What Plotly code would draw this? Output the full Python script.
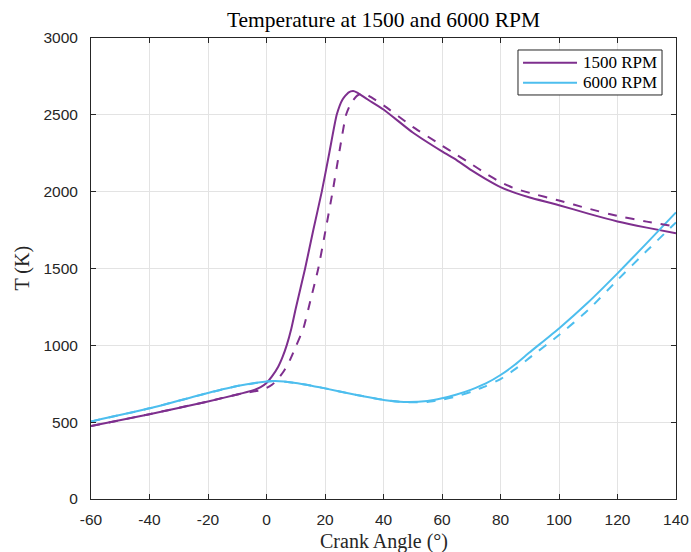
import plotly.graph_objects as go

# 1500 RPM, solid
ang_1500 = [-60, -40, -20, -10, -5, -2, 0, 1.8, 4, 5.5, 6.9, 8.5, 10, 13.2, 16, 18.9, 21.5, 24, 26, 28, 29.6, 31, 33, 35, 40, 50, 60, 65, 70, 75, 80, 85, 90, 100, 110, 120, 130, 140]
T_1500 = [475, 552, 635, 680, 705, 728, 755, 796, 861, 925, 1000, 1110, 1240, 1500, 1750, 2000, 2255, 2500, 2600, 2645, 2655, 2645, 2620, 2595, 2535, 2385, 2262, 2205, 2140, 2082, 2030, 1992, 1962, 1912, 1857, 1806, 1766, 1730]
# 1500 RPM, dashed
ang_1500d = [-60, -40, -20, -10, -5, -2, 0, 2, 4, 6, 8, 10.2, 12.6, 15, 17.7, 20, 22.6, 25, 27.2, 29, 31, 32.5, 34, 36, 40, 50, 60, 65, 70, 75, 80, 85, 90, 100, 110, 120, 130, 140]
T_1500d = [475, 552, 635, 680, 698, 708, 722, 745, 782, 835, 904, 1000, 1110, 1290, 1500, 1730, 2000, 2270, 2500, 2580, 2625, 2640, 2635, 2612, 2562, 2422, 2300, 2240, 2180, 2118, 2062, 2020, 1992, 1942, 1890, 1842, 1805, 1772]
# 6000 RPM, solid
ang_6000 = [-60, -40, -20, -10, 0, 3, 10, 20, 30, 40, 47, 55, 60, 65, 70, 75, 80, 85, 90, 100, 110, 120, 130, 140]
T_6000 = [505, 590, 690, 735, 765, 768, 755, 720, 680, 645, 632, 638, 655, 680, 712, 752, 807, 875, 955, 1110, 1280, 1468, 1665, 1865]
# 6000 RPM, dashed
ang_6000d = [-60, -40, -20, -10, 0, 3, 10, 20, 30, 40, 47, 55, 60, 65, 70, 75, 80, 85, 90, 100, 110, 120, 130, 140]
T_6000d = [505, 590, 690, 735, 765, 768, 755, 720, 680, 645, 630, 632, 646, 668, 698, 735, 780, 845, 920, 1067, 1230, 1425, 1615, 1800]

x_ticks = list(range(-60, 141, 20))
x_ticklabels = [str(v) for v in x_ticks]
y_ticks = list(range(0, 3001, 500))
y_ticklabels = [str(v) for v in y_ticks]
legend_names = ["1500 RPM", "6000 RPM"]

PURPLE = "#7E2F8E"
CYAN = "#4DBEEE"
SERIF = "Liberation Serif, DejaVu Serif, serif"
SANS = "Liberation Sans, Arial, sans-serif"

fig = go.Figure()
fig.add_trace(go.Scatter(x=ang_1500, y=T_1500, mode="lines", name=legend_names[0], showlegend=False,
                         line=dict(color=PURPLE, width=2, shape="spline", smoothing=0.5)))
fig.add_trace(go.Scatter(x=ang_6000, y=T_6000, mode="lines", name=legend_names[1], showlegend=False,
                         line=dict(color=CYAN, width=2, shape="spline", smoothing=0.5)))
fig.add_trace(go.Scatter(x=ang_1500d, y=T_1500d, mode="lines", showlegend=False,
                         line=dict(color=PURPLE, width=2, dash="dash", shape="spline", smoothing=0.5)))
fig.add_trace(go.Scatter(x=ang_6000d, y=T_6000d, mode="lines", showlegend=False,
                         line=dict(color=CYAN, width=2, dash="dash", shape="spline", smoothing=0.5)))

axis_common = dict(showgrid=True, gridcolor="#E3E3E3", gridwidth=1, zeroline=False,
                   showline=True, linecolor="#262626", linewidth=1, mirror="ticks",
                   ticks="inside", ticklen=5, tickcolor="#262626", automargin=False,
                   tickfont=dict(family=SANS, size=15.5, color="#262626"))

# legend box drawn in plot-area (paper) coordinates
leg_x0, leg_x1, leg_y0, leg_y1 = 0.7299, 0.9761, 0.8764, 0.974
leg_rows = [0.9464, 0.9030]
leg_colors = [PURPLE, CYAN]
shapes = [dict(type="rect", xref="paper", yref="paper", x0=leg_x0, x1=leg_x1, y0=leg_y0, y1=leg_y1,
               line=dict(color="#262626", width=1), fillcolor="white", layer="above")]
annotations = []
for name, yy, col in zip(legend_names, leg_rows, leg_colors):
    shapes.append(dict(type="line", xref="paper", yref="paper", x0=0.7385, x1=0.8308, y0=yy, y1=yy,
                       line=dict(color=col, width=2), layer="above"))
    annotations.append(dict(text=name, xref="paper", yref="paper", x=0.8375, y=yy,
                            xanchor="left", yanchor="middle", showarrow=False,
                            font=dict(family=SERIF, size=17, color="black")))

annotations += [
    dict(text="Crank Angle (°)", xref="paper", yref="paper", x=0.5, y=-42 / 461,
         xanchor="center", yanchor="middle", showarrow=False,
         font=dict(family=SERIF, size=20, color="#262626")),
    dict(text="T (K)", xref="paper", yref="paper", x=-69 / 585, y=0.5,
         xanchor="center", yanchor="middle", showarrow=False, textangle=-90,
         font=dict(family=SERIF, size=20, color="#262626")),
]

fig.update_layout(
    width=691, height=552,
    margin=dict(l=91, r=15, t=38, b=53),
    paper_bgcolor="white", plot_bgcolor="white",
    title=dict(text="Temperature at 1500 and 6000 RPM", x=0.5, xanchor="center",
               xref="paper", y=1 - 19 / 552, yanchor="middle",
               font=dict(family=SERIF, size=21.5, color="black")),
    xaxis=dict(range=[-60, 140], tickvals=x_ticks, ticktext=x_ticklabels,
               ticklabelstandoff=6, **axis_common),
    yaxis=dict(range=[0, 3000], tickvals=y_ticks, ticktext=y_ticklabels,
               ticklabelstandoff=9, **axis_common),
    showlegend=False,
    hovermode=False,
    shapes=shapes,
    annotations=annotations,
)

# remove the browser's default 8px body margin so the figure fills the window exactly
fig.write_html("out.html", config={"displayModeBar": False},
               post_script="document.body.style.margin='0';document.body.style.overflow='hidden';")
